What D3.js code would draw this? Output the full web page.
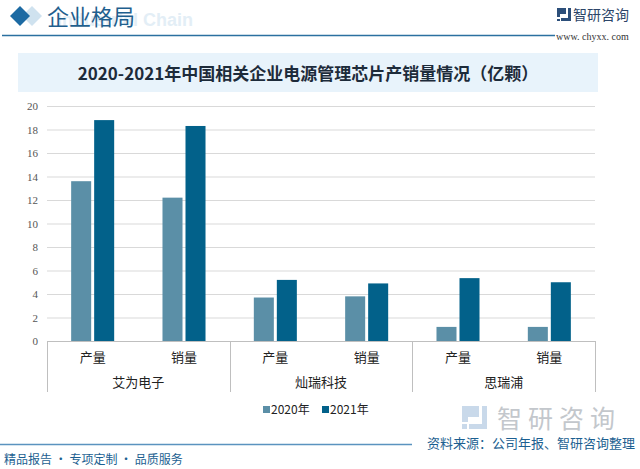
<!DOCTYPE html>
<html>
<head>
<meta charset="utf-8">
<script src="https://cdn.jsdelivr.net/npm/d3@7"></script>
<style>
  body { margin: 0; background: #fff; }
  svg { display: block; font-family: "Noto Sans CJK SC", "Noto Sans", sans-serif; }
</style>
</head>
<body>
<div id="chart"></div>
<script>
// data
const companies = ["艾为电子", "灿瑞科技", "思瑞浦"];
const metrics = ["产量", "销量"];
const years = ["2020年", "2021年"];
const values2020 = [13.6, 12.2, 3.7, 3.8, 1.2, 1.2];
const values2021 = [18.8, 18.3, 5.2, 4.9, 5.35, 5.0];
const yTicks = [0, 2, 4, 6, 8, 10, 12, 14, 16, 18, 20];

const width = 640, height = 469;
const colors = ["#5b8fa7", "#02618a"];
const plot = { left: 47, right: 595, top: 106, bottom: 341 };

const svg = d3.select("#chart").append("svg")
  .attr("width", width).attr("height", height);

// header
svg.append("text").attr("x", 193).attr("y", 26).attr("text-anchor", "end")
  .attr("font-family", "Arial, sans-serif").attr("font-weight", "bold")
  .attr("font-size", 18).attr("fill", "#e3eef6").text("Industrial Chain");
svg.append("path").attr("d", "M32,6 L42,16 L32,26 L22,16 Z").attr("fill", "#cfe2ef");
svg.append("path").attr("d", "M20,6 L30,16 L20,26 L10,16 Z").attr("fill", "#1c6aa3");
svg.append("text").attr("x", 47).attr("y", 25)
  .attr("font-size", 22).attr("fill", "#1f5f8e").text("企业格局");
svg.append("line").attr("x1", 2).attr("x2", 555).attr("y1", 35.5).attr("y2", 35.5)
  .attr("stroke", "#2b70a0").attr("stroke-width", 1.5);

// logo top right
const logo = svg.append("g").attr("transform", "translate(557,8)");
logo.append("path").attr("d", "M0,0 H9 V6 H3 V9 H0 Z M11,0 H14 V13 H4 V10 H11 Z M0,11 H3 V13 H0 Z")
  .attr("fill", "#2c4f7a");
svg.append("text").attr("x", 573).attr("y", 20).attr("font-size", 14)
  .attr("fill", "#2c4568").text("智研咨询");
svg.append("text").attr("x", 556).attr("y", 40).attr("font-size", 10)
  .attr("font-family", "'Liberation Serif', serif").attr("fill", "#333").text("www. chyxx. com");

// title box
svg.append("rect").attr("x", 18).attr("y", 53).attr("width", 580).attr("height", 39)
  .attr("fill", "#e8f3fb");
svg.append("text").attr("x", 308).attr("y", 80).attr("text-anchor", "middle")
  .attr("font-size", 17).attr("font-weight", "bold").attr("fill", "#1d2b3a")
  .text("2020-2021年中国相关企业电源管理芯片产销量情况（亿颗）");

// scales
const y = d3.scaleLinear().domain([0, 20]).range([plot.bottom, plot.top]);
const xGroup = d3.scaleBand().domain(companies).range([plot.left, plot.right]);
const xSub = d3.scaleBand().domain(metrics).range([0, xGroup.bandwidth()]);
const xYear = d3.scaleBand().domain(years).range([0, xSub.bandwidth()])
  .paddingInner(0.13).paddingOuter(1.05);

// grid + y axis
const yAxis = d3.axisLeft(y).tickValues(yTicks).tickSize(-(plot.right - plot.left)).tickPadding(9);
const gy = svg.append("g").attr("transform", `translate(${plot.left},0)`).call(yAxis);
gy.select(".domain").remove();
gy.selectAll(".tick line").attr("stroke", "#d9d9d9");
gy.selectAll(".tick text").attr("fill", "#555").attr("font-size", 11)
  .attr("font-family", "'Liberation Serif', serif");

// bars
const rows = [];
companies.forEach((c, i) => metrics.forEach((m, j) => {
  const k = i * 2 + j;
  rows.push({ c, m, year: years[0], v: values2020[k] });
  rows.push({ c, m, year: years[1], v: values2021[k] });
}));
svg.append("g").selectAll("rect").data(rows).join("rect")
  .attr("x", d => xGroup(d.c) + xSub(d.m) + xYear(d.year))
  .attr("width", xYear.bandwidth())
  .attr("y", d => y(d.v))
  .attr("height", d => y(0) - y(d.v))
  .attr("fill", d => d.year === years[0] ? colors[0] : colors[1]);

// category axis
svg.append("line").attr("x1", plot.left).attr("x2", plot.right)
  .attr("y1", plot.bottom + 0.5).attr("y2", plot.bottom + 0.5).attr("stroke", "#bfbfbf");
const seps = companies.map(c => xGroup(c)).concat([plot.right]);
svg.append("g").selectAll("line").data(seps).join("line")
  .attr("x1", d => Math.round(d) + 0.5).attr("x2", d => Math.round(d) + 0.5)
  .attr("y1", plot.bottom).attr("y2", 392).attr("stroke", "#bfbfbf");
companies.forEach(c => {
  metrics.forEach(m => {
    svg.append("text").attr("x", xGroup(c) + xSub(m) + xSub.bandwidth() / 2).attr("y", 362)
      .attr("text-anchor", "middle").attr("font-size", 13).attr("fill", "#222").text(m);
  });
  svg.append("text").attr("x", xGroup(c) + xGroup.bandwidth() / 2).attr("y", 387)
    .attr("text-anchor", "middle").attr("font-size", 13).attr("fill", "#222").text(c);
});

// legend
const legend = svg.append("g").attr("transform", "translate(263,409)");
years.forEach((yr, i) => {
  const g = legend.append("g").attr("transform", `translate(${i * 59},0)`);
  g.append("rect").attr("x", 0).attr("y", -3).attr("width", 7).attr("height", 7).attr("fill", colors[i]);
  g.append("text").attr("x", 8).attr("y", 5).attr("font-size", 12).attr("fill", "#222").text(yr);
});

// bottom
const blogo = svg.append("g").attr("transform", "translate(462,406)");
blogo.append("path").attr("d", "M0,0 H17 V11 H6 V16 H0 Z M20,0 H25 V23 H7 V18 H20 Z M0,18 H5 V23 H0 Z")
  .attr("fill", "#c9d9ea");
svg.append("text").attr("x", 497).attr("y", 428).attr("font-size", 25)
  .attr("fill", "#c3c7cc").attr("letter-spacing", 6).text("智研咨询");
svg.append("text").attr("x", 427).attr("y", 448).attr("font-size", 13)
  .attr("fill", "#1c5f91").text("资料来源：公司年报、智研咨询整理");
svg.append("line").attr("x1", 0).attr("x2", 412).attr("y1", 444.5).attr("y2", 444.5)
  .attr("stroke", "#5a93bf").attr("stroke-width", 1.5);
svg.append("text").attr("x", 4).attr("y", 464).attr("font-size", 12)
  .attr("fill", "#1c5f91").text("精品报告 · 专项定制 · 品质服务");
</script>
</body>
</html>
